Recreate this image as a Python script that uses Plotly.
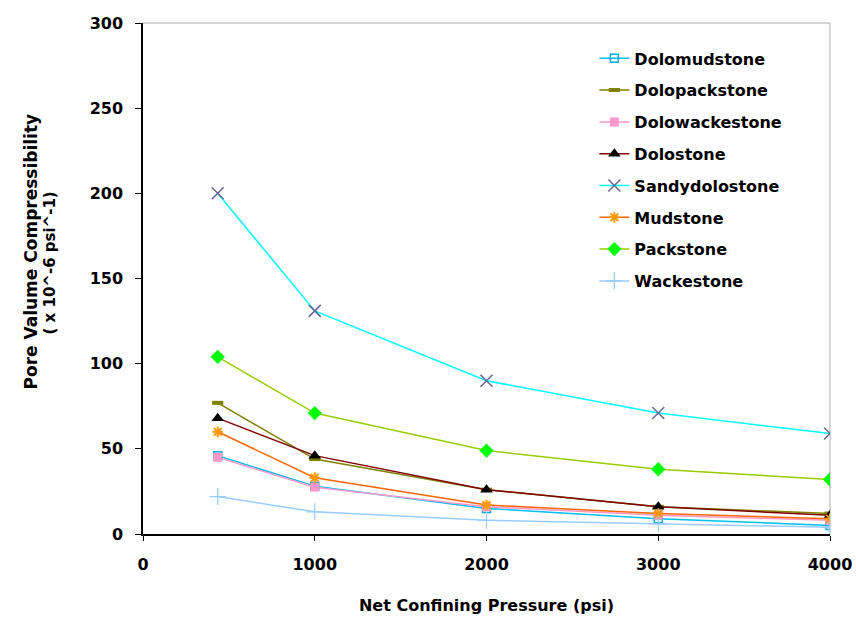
import plotly.graph_objects as go

pressure = [435, 1000, 2000, 3000, 4000]
dolomudstone = [46, 28, 15, 9, 5]
dolopackstone = [77, 44, 26, 16, 12]
dolowackestone = [45, 27.5, 16, 11, 8]
dolostone = [68, 46, 26, 16, 11]
sandydolostone = [200, 131, 90, 71, 59]
mudstone = [60, 33, 17, 12, 9]
packstone = [104, 71, 49, 38, 32]
wackestone = [22, 13, 8, 6, 4]

x_ticks = [0, 1000, 2000, 3000, 4000]
y_ticks = [0, 50, 100, 150, 200, 250, 300]

series = [
    ("Dolomudstone", dolomudstone, "#00C0F0", dict(symbol="square-open", color="#00A8E8", size=8, line=dict(width=1.5))),
    ("Dolopackstone", dolopackstone, "#808000", dict(symbol="line-ew", color="#808000", size=8, line=dict(width=4, color="#808000"))),
    ("Dolowackestone", dolowackestone, "#FF99CC", dict(symbol="square", color="#FF99CC", size=9)),
    ("Dolostone", dolostone, "#800000", dict(symbol="triangle-up", color="#000000", size=11)),
    ("Sandydolostone", sandydolostone, "#00FFFF", dict(symbol="x-thin", color="#666699", size=12, line=dict(width=1.5, color="#666699"))),
    ("Mudstone", mudstone, "#FF6600", dict(symbol="asterisk", color="#FF9900", size=9, line=dict(width=2, color="#FF9900"))),
    ("Packstone", packstone, "#99CC00", dict(symbol="diamond", color="#00FF00", size=11)),
    ("Wackestone", wackestone, "#99CCFF", dict(symbol="cross-thin", color="#99CCFF", size=12, line=dict(width=1.2, color="#99CCFF"))),
]

fig = go.Figure()
for name, vals, lc, mk in series:
    fig.add_trace(go.Scatter(
        x=pressure, y=vals, name=name, mode="lines+markers",
        line=dict(color=lc, width=1.5), marker=mk, legendgroup=name,
    ))

font_family = "DejaVu Sans, Arial, sans-serif"
fig.update_layout(
    width=856, height=619,
    margin=dict(l=143, r=26, t=23, b=85),
    paper_bgcolor="white", plot_bgcolor="white",
    font=dict(family=font_family, size=16, color="black"),
    showlegend=True,
    legend=dict(x=0.657, y=0.964, xanchor="left", yanchor="top",
                font=dict(size=16, family=font_family, weight="bold"),
                tracegroupgap=8, bgcolor="rgba(0,0,0,0)"),
    xaxis=dict(range=[0, 4000], tickvals=x_ticks, automargin=False, ticklabeloverflow="allow",
               showgrid=False, zeroline=False, showline=True, linecolor="black", linewidth=1.5,
               ticks="outside", ticklen=5, tickcolor="black", ticklabelstandoff=10,
               tickfont=dict(size=16, weight="bold"),
               title=dict(text="<b>Net Confining Pressure (psi)</b>", font=dict(size=16), standoff=27)),
    yaxis=dict(range=[0, 300], tickvals=y_ticks, automargin=False,
               showgrid=False, zeroline=False, showline=True, linecolor="black", linewidth=1.5,
               ticks="outside", ticklen=6, tickcolor="black", ticklabelstandoff=9,
               tickfont=dict(size=16, weight="bold")),
    shapes=[
        dict(type="line", xref="paper", yref="paper", x0=1, x1=1, y0=0, y1=1,
             line=dict(color="#C8C8C8", width=1.5), layer="below"),
        dict(type="line", xref="paper", yref="paper", x0=0, x1=1, y0=1, y1=1,
             line=dict(color="#C8C8C8", width=1.5), layer="below"),
    ],
    annotations=[
        dict(text="<b>Pore Valume Compressibility</b>", xref="paper", yref="paper",
             x=0, y=0.5, xanchor="center", yanchor="middle", textangle=-90,
             xshift=-113, yshift=27, showarrow=False, font=dict(size=17)),
        dict(text="<b>( x 10^-6 psi^-1)</b>", xref="paper", yref="paper",
             x=0, y=0.5, xanchor="center", yanchor="middle", textangle=-90,
             xshift=-94, yshift=15, showarrow=False, font=dict(size=15)),
    ],
)

fig.write_html("out.html", config={"displayModeBar": False},
               post_script="document.body.style.margin='0';document.body.style.overflow='hidden';")
